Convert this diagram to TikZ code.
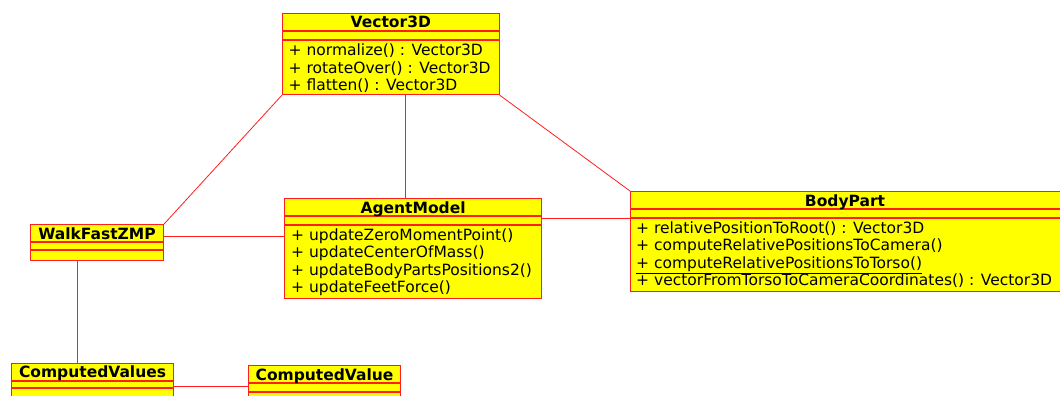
\documentclass[tikz,border=0pt]{standalone}
\usepackage{fontspec}
\setmainfont{DejaVu Sans}
\usetikzlibrary{calc}

\definecolor{umlred}{RGB}{255,30,30}
\definecolor{umlyellow}{RGB}{255,255,0}

\tikzset{
  classbox/.style={draw=umlred, fill=umlyellow, line width=1.1pt, inner sep=0pt,
                   anchor=north west, rectangle},
  sepline/.style={draw=umlred, line width=1.1pt},
  classtitle/.style={anchor=base, inner sep=0pt, font=\fontsize{15.5}{17.5}\selectfont\bfseries},
  member/.style={anchor=base west, inner sep=0pt, font=\fontsize{15.5}{17.5}\selectfont},
  assoc/.style={draw=umlred, line width=0.8pt},
}

\begin{document}
\begin{tikzpicture}[x=1pt, y=-1pt]
  \clip (0,0) rectangle (1060,396);
  \fill[white] (0,0) rectangle (1060,396);

  % ---------- class boxes ----------
  \node[classbox, minimum width=216.5pt, minimum height=81pt] (vec) at (282,13) {};
  \node[classbox, minimum width=133pt, minimum height=36pt] (walk) at (30,224) {};
  \node[classbox, minimum width=257pt, minimum height=100pt] (agent) at (284,198) {};
  \node[classbox, minimum width=445pt, minimum height=100pt] (body) at (630,191) {};
  \node[classbox, minimum width=162pt, minimum height=45pt] (cvs) at (11,363) {};
  \node[classbox, minimum width=152pt, minimum height=45pt] (cv) at (248,365) {};

  % ---------- compartment separators ----------
  \foreach \n/\a/\b in {vec/18/27, walk/18/26, agent/18/27, body/18/27, cvs/18/25, cv/18/27}{
    \draw[sepline] ([yshift=-\a pt]\n.north west) -- ([yshift=-\a pt]\n.north east);
    \draw[sepline] ([yshift=-\b pt]\n.north west) -- ([yshift=-\b pt]\n.north east);
  }

  % ---------- class names ----------
  \node[classtitle] (vec-t) at ([yshift=-14.7pt]vec.north) {Vector3D};
  \node[classtitle] (walk-t) at ([yshift=-15pt]walk.north) {WalkFastZMP};
  \node[classtitle] (agent-t) at ([yshift=-15pt]agent.north) {AgentModel};
  \node[classtitle] (body-t) at ([xshift=215pt, yshift=-15pt]body.north west) {BodyPart};
  \node[classtitle] (cvs-t) at ([yshift=-14.5pt]cvs.north) {ComputedValues};
  \node[classtitle] (cv-t) at ([yshift=-15pt]cv.north) {ComputedValue};

  % ---------- operations ----------
  \node[member] (vec-m1) at ([xshift=6.5pt, yshift=-42.7pt]vec.north west) {+ normalize() : Vector3D};
  \node[member] (vec-m2) at ([xshift=6.5pt, yshift=-60.1pt]vec.north west) {+ rotateOver() : Vector3D};
  \node[member] (vec-m3) at ([xshift=6.5pt, yshift=-77.5pt]vec.north west) {+ flatten() : Vector3D};

  \node[member] (agent-m1) at ([xshift=7pt, yshift=-42pt]agent.north west) {+ updateZeroMomentPoint()};
  \node[member] (agent-m2) at ([xshift=7pt, yshift=-59.5pt]agent.north west) {+ updateCenterOfMass()};
  \node[member] (agent-m3) at ([xshift=7pt, yshift=-77pt]agent.north west) {+ updateBodyPartsPositions2()};
  \node[member] (agent-m4) at ([xshift=7pt, yshift=-94.5pt]agent.north west) {+ updateFeetForce()};

  \node[member] (body-m1) at ([xshift=6pt, yshift=-42.3pt]body.north west) {+ relativePositionToRoot() : Vector3D};
  \node[member] (body-m2) at ([xshift=6pt, yshift=-59.8pt]body.north west) {+ computeRelativePositionsToCamera()};
  \node[member] (body-m3) at ([xshift=6pt, yshift=-77.3pt]body.north west) {\underline{+ computeRelativePositionsToTorso()}};
  \node[member] (body-m4) at ([xshift=6pt, yshift=-94.8pt]body.north west) {+ vectorFromTorsoToCameraCoordinates() : Vector3D};

  % ---------- associations ----------
  \draw[assoc] (vec.south west) -- (walk.north east);
  \draw[assoc] ([xshift=14.7pt]vec.south) -- ([xshift=14.7pt]vec.south |- agent.north);
  \draw[assoc] (vec.south east) -- (body.north west);
  \draw[assoc] ([yshift=-12.7pt]walk.north east) -- ([yshift=-12.7pt]walk.north east -| agent.west);
  \draw[assoc] ([yshift=-20.7pt]agent.north east) -- ([yshift=-20.7pt]agent.north east -| body.west);
  \draw[assoc] ([xshift=47.7pt]walk.south west) -- ([xshift=47.7pt]walk.south west |- cvs.north);
  \draw[assoc] ([yshift=-23.3pt]cvs.north east) -- ([yshift=-23.3pt]cvs.north east -| cv.west);
\end{tikzpicture}
\end{document}
